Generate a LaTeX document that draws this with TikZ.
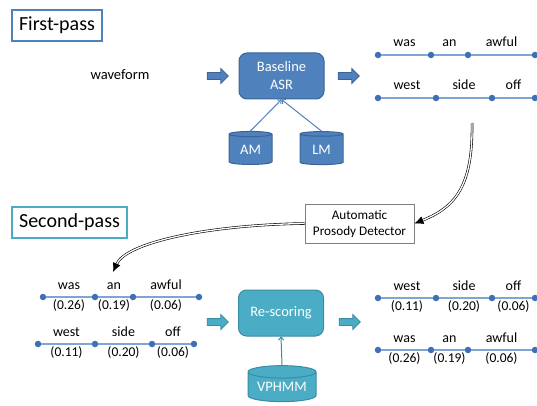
\documentclass[tikz,border=0pt]{standalone}
\usepackage{fontspec}
\setmainfont{Carlito}
\usetikzlibrary{shapes.geometric,shapes.arrows,arrows.meta}
\definecolor{asrfill}{HTML}{4F81BD}
\definecolor{asredge}{HTML}{3A6498}
\definecolor{tealfill}{HTML}{4BACC6}
\definecolor{tealedge}{HTML}{3A8CA3}
\definecolor{tealtop}{HTML}{7FC4D6}
\definecolor{dotc}{HTML}{3F6FB6}
\definecolor{linec}{HTML}{7FA5D5}
\definecolor{boxgray}{HTML}{7F7F7F}
\begin{document}
\begin{tikzpicture}[x=1pt,y=-1pt,
  heading/.style={draw, line width=1.3pt, minimum height=31pt, inner sep=0pt,
    font=\fontsize{20}{24}\selectfont},
  procbox/.style={draw, rounded corners=8pt, line width=1pt, text=white, align=center,
    minimum width=85pt, minimum height=46pt, inner sep=0pt,
    font=\fontsize{14.5}{18}\selectfont},
  db/.style={cylinder, shape border rotate=90, aspect=0.25, draw, line width=1pt,
    cylinder uses custom fill, text=white, inner sep=0pt,
    font=\fontsize{14.5}{17}\selectfont},
  fat/.style={single arrow, minimum height=21pt, inner xsep=0pt, inner ysep=3pt,
    single arrow head extend=4pt, draw, line width=0.8pt},
  dot/.style={circle, fill=dotc, inner sep=0pt, minimum size=6.5pt},
  lat/.style={draw=linec, line width=1.1pt},
  wd/.style={midway, anchor=base, yshift=8pt, inner sep=0pt, text=black,
    font=\fontsize{14}{16}\selectfont},
  scr/.style={midway, anchor=base, yshift=-12pt, inner sep=0pt, text=black,
    font=\fontsize{13.5}{16}\selectfont},
  dbl/.style={double distance=1.3pt, line width=0.6pt, -{Latex[length=9pt,width=8pt]}}
]
\useasboundingbox (0,0) rectangle (537,406);

% ---------- first pass ----------
\node[heading, draw=asrfill, minimum width=90pt] (fp) at (57,25.5) {First-pass};
\node[anchor=base, inner sep=0pt, font=\fontsize{14.5}{17}\selectfont] (wave) at (120,80) {waveform};
\node[fat, fill=asrfill, draw=asredge] (fa1) at (216,76) {};
\node[procbox, fill=asrfill, draw=asredge] (asr) at (281.5,76) {Baseline\\ASR};
\node[fat, fill=asrfill, draw=asredge] (fa2) at (347,76) {};
\node[db, fill=asrfill, draw=asredge, minimum width=43pt, minimum height=33pt] (am) at (250.5,149.5) {AM};
\node[db, fill=asrfill, draw=asredge, minimum width=43pt, minimum height=33pt] (lm) at (321.5,149.5) {LM};
\draw[asrfill, line width=1pt, -{To[length=4pt,width=6pt]}] (am.north) -- (asr.south);
\draw[asrfill, line width=1pt, -{To[length=4pt,width=6pt]}] (lm.north) -- (asr.south);

% first-pass lattice, upper path
\node[dot] (ua) at (378,55) {};
\node[dot] (ub) at (431,55) {};
\node[dot] (uc) at (468,55) {};
\node[dot] (ud) at (535,55) {};
\draw[lat] (ua) -- node[wd] {was} (ub);
\draw[lat] (ub) -- node[wd] {an} (uc);
\draw[lat] (uc) -- node[wd] {awful} (ud);
% first-pass lattice, lower path
\node[dot] (va) at (378,98) {};
\node[dot] (vb) at (436,98) {};
\node[dot] (vc) at (492,98) {};
\node[dot] (vd) at (535,98) {};
\draw[lat] (va) -- node[wd] {west} (vb);
\draw[lat] (vb) -- node[wd] {side} (vc);
\draw[lat] (vc) -- node[wd] {off} (vd);

% ---------- prosody detector ----------
\node[draw=boxgray, line width=0.8pt, align=center, minimum width=109pt, minimum height=39pt,
  inner sep=0pt, font=\fontsize{13.2}{16}\selectfont] (apd) at (359.5,223.5)
  {Automatic\\Prosody Detector};
\coordinate (drop) at (472,123);
\draw[dbl] (drop) .. controls (473,185) and (456,207) .. (apd.east);
\draw[dbl] (apd.west) .. controls (205,225) and (126,243) .. (113,272);

% ---------- second pass ----------
\node[heading, draw=tealfill, minimum width=115pt] (sp) at (69.5,222.5) {Second-pass};

% scored lattice, input
\node[dot] (pa) at (43,297) {};
\node[dot] (pb) at (95,297) {};
\node[dot] (pc) at (133,297) {};
\node[dot] (pd) at (199,297) {};
\draw[lat] (pa) -- node[wd] {was} node[scr] {(0.26)} (pb);
\draw[lat] (pb) -- node[wd] {an} node[scr] {(0.19)} (pc);
\draw[lat] (pc) -- node[wd] {awful} node[scr] {(0.06)} (pd);
\node[dot] (qa) at (38,344) {};
\node[dot] (qb) at (95,344) {};
\node[dot] (qc) at (152,344) {};
\node[dot] (qd) at (194,344) {};
\draw[lat] (qa) -- node[wd] {west} node[scr] {(0.11)} (qb);
\draw[lat] (qb) -- node[wd] {side} node[scr] {(0.20)} (qc);
\draw[lat] (qc) -- node[wd] {off} node[scr] {(0.06)} (qd);

\node[fat, fill=tealfill, draw=tealedge] (ta1) at (216,322) {};
\node[procbox, fill=tealfill, draw=tealedge] (rs) at (281,313) {Re-scoring};
\node[fat, fill=tealfill, draw=tealedge] (ta2) at (348,322) {};
\node[db, fill=tealfill, draw=tealedge, cylinder end fill=tealtop,
  minimum width=68pt, minimum height=36pt] (vp) at (282,387) {VPHMM};
\draw[tealedge, line width=1pt, -{To[length=4pt,width=6pt]}] (vp.north) -- (rs.south);

% scored lattice, output
\node[dot] (ra) at (378,298) {};
\node[dot] (rb) at (436,298) {};
\node[dot] (rc) at (492,298) {};
\node[dot] (rd) at (535,298) {};
\draw[lat] (ra) -- node[wd] {west} node[scr] {(0.11)} (rb);
\draw[lat] (rb) -- node[wd] {side} node[scr] {(0.20)} (rc);
\draw[lat] (rc) -- node[wd] {off} node[scr] {(0.06)} (rd);
\node[dot] (sa) at (378,350) {};
\node[dot] (sb) at (431,350) {};
\node[dot] (sx) at (468,350) {};
\node[dot] (sd) at (535,350) {};
\draw[lat] (sa) -- node[wd] {was} node[scr] {(0.26)} (sb);
\draw[lat] (sb) -- node[wd] {an} node[scr] {(0.19)} (sx);
\draw[lat] (sx) -- node[wd] {awful} node[scr] {(0.06)} (sd);
\end{tikzpicture}
\end{document}
